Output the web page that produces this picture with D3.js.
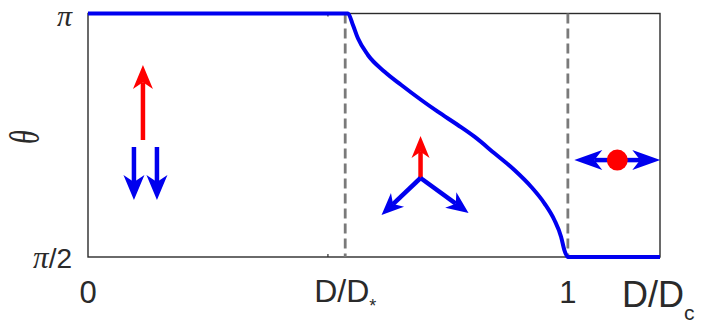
<!DOCTYPE html>
<html>
<head>
<meta charset="utf-8">
<script src="https://cdn.jsdelivr.net/npm/d3@7/dist/d3.min.js"></script>
<style>
  html, body { margin: 0; padding: 0; background: #fff; }
  svg { display: block; }
  text { font-family: "Liberation Sans", Arial, sans-serif; fill: #2a2a2a; }
</style>
</head>
<body>
<svg id="chart" width="707" height="327"></svg>
<script>
// Canting angle theta versus reduced interaction D/Dc
const dRatio = [0, 0.5417, 0.5521, 0.5625, 0.5833, 0.6181, 0.6529, 0.6945, 0.7290,
                0.7707, 0.8054, 0.8470, 0.8886, 0.9234, 0.9511, 0.9719, 0.9858,
                0.9927, 1.0, 1.192];
const theta  = [Math.PI, Math.PI, 3.0675, 2.9817, 2.8739, 2.7662, 2.6804, 2.5836, 2.5081,
                2.4223, 2.3468, 2.2398, 2.1320, 2.0243, 1.9172, 1.8095, 1.7018,
                1.6159, Math.PI / 2, Math.PI / 2];

// phase boundaries (dashed) and axis ticks
const boundaries = [0.536, 1.0];
const xTickMarks = [0.5, 1.0];
const yTickValues = [Math.PI / 2, Math.PI];

// spin sketches placed in each phase: anchor (D/Dc, theta)
const glyphD     = [0.1145, 0.693, 1.103];
const glyphTheta = [2.3256, 2.0804, 2.196];

const margin = { top: 13.5, right: 47, bottom: 70, left: 88 };
const W = 707, H = 327;
const innerW = W - margin.left - margin.right;
const innerH = H - margin.top - margin.bottom;

const svg = d3.select("#chart");
const g = svg.append("g").attr("transform", `translate(${margin.left},${margin.top})`);

const x = d3.scaleLinear().domain([0, 1.192]).range([0, innerW]);
const y = d3.scaleLinear().domain([Math.PI / 2, Math.PI]).range([innerH, 0]);

// frame
g.append("rect")
  .attr("x", 0).attr("y", 0).attr("width", innerW).attr("height", innerH)
  .attr("fill", "none").attr("stroke", "#2b2b2b").attr("stroke-width", 1.4);

// small inward ticks on bottom and top
const tickLen = 3;
g.selectAll(".tb").data(xTickMarks).join("line")
  .attr("x1", d => x(d)).attr("x2", d => x(d))
  .attr("y1", innerH).attr("y2", innerH - tickLen)
  .attr("stroke", "#2b2b2b").attr("stroke-width", 1.2);
g.selectAll(".tt").data(xTickMarks).join("line")
  .attr("x1", d => x(d)).attr("x2", d => x(d))
  .attr("y1", 0).attr("y2", tickLen)
  .attr("stroke", "#2b2b2b").attr("stroke-width", 1.2);

// dashed phase boundaries
g.selectAll(".bnd").data(boundaries).join("line")
  .attr("x1", d => x(d)).attr("x2", d => x(d))
  .attr("y1", 0).attr("y2", innerH)
  .attr("stroke", "#7a7a7a").attr("stroke-width", 2.8)
  .attr("stroke-dasharray", "10,5");

// theta curve
const line = d3.line()
  .x((d, i) => x(dRatio[i]))
  .y((d, i) => y(theta[i]))
  .curve(d3.curveMonotoneX);
g.append("path")
  .datum(dRatio)
  .attr("d", line)
  .attr("fill", "none")
  .attr("stroke", "#0000f0")
  .attr("stroke-width", 4)
  .attr("stroke-linejoin", "round");

// arrow helper (notched head)
function arrow(sel, x1, y1, x2, y2, color, headLen, headWid, shaftW) {
  const dx = x2 - x1, dy = y2 - y1, L = Math.hypot(dx, dy);
  const ux = dx / L, uy = dy / L, px = -uy, py = ux;
  const bx = x2 - ux * headLen, by = y2 - uy * headLen;
  const nx = x2 - ux * headLen * 0.72, ny = y2 - uy * headLen * 0.72;
  sel.append("line")
    .attr("x1", x1).attr("y1", y1).attr("x2", nx).attr("y2", ny)
    .attr("stroke", color).attr("stroke-width", shaftW);
  sel.append("path")
    .attr("d", `M${x2},${y2}L${bx + px * headWid / 2},${by + py * headWid / 2}` +
               `L${nx},${ny}L${bx - px * headWid / 2},${by - py * headWid / 2}Z`)
    .attr("fill", color);
}

const red = "#ff0000", blue = "#0000ee";

// phase I: collinear, one up and two down
{
  const cx = x(glyphD[0]), cy = y(glyphTheta[0]);
  arrow(g, cx, cy, cx, cy - 75, red, 24, 20, 4.5);
  arrow(g, cx - 9, cy + 7, cx - 9, cy + 60, blue, 25, 21, 4.5);
  arrow(g, cx + 14, cy + 7, cx + 14, cy + 60, blue, 25, 21, 4.5);
}
// phase II: canted triad
{
  const cx = x(glyphD[1]), cy = y(glyphTheta[1]);
  arrow(g, cx, cy, cx, cy - 42, red, 22, 18, 4.5);
  arrow(g, cx, cy, cx - 39, cy + 37, blue, 22, 19, 4.5);
  arrow(g, cx, cy, cx + 48, cy + 35, blue, 22, 19, 4.5);
}
// phase III: in-plane, with red dot
{
  const cx = x(glyphD[2]), cy = y(glyphTheta[2]);
  arrow(g, cx, cy, cx - 43, cy, blue, 28, 20, 4.5);
  arrow(g, cx, cy, cx + 43, cy, blue, 28, 20, 4.5);
  g.append("circle").attr("cx", cx).attr("cy", cy).attr("r", 10.5).attr("fill", red);
}

// y tick labels
const yLab = svg.append("g");
yLab.append("text")
  .attr("x", 72).attr("y", margin.top + y(yTickValues[1]) + 12)
  .attr("text-anchor", "end")
  .style("font-family", "'Liberation Serif', serif").style("font-style", "italic")
  .style("font-size", "30px").text("π");
const half = yLab.append("text")
  .attr("x", 72).attr("y", margin.top + y(yTickValues[0]) + 11)
  .attr("text-anchor", "end").style("font-size", "28px");
half.append("tspan")
  .style("font-family", "'Liberation Serif', serif").style("font-style", "italic")
  .style("font-size", "31px").text("π");
half.append("tspan").text("/2");

// y axis title
svg.append("text")
  .attr("transform", "translate(39,137) rotate(-90) scale(1,1.5)")
  .attr("text-anchor", "middle")
  .style("font-family", "'Liberation Serif', serif").style("font-style", "italic")
  .style("font-size", "28px").text("θ");

// x tick labels
const xl = svg.append("g");
xl.append("text").attr("x", margin.left + x(0)).attr("y", 303)
  .attr("text-anchor", "middle").style("font-size", "31px").text("0");
xl.append("text").attr("x", margin.left + x(1)).attr("y", 303)
  .attr("text-anchor", "middle").style("font-size", "31px").text("1");
const ds = xl.append("text").attr("x", margin.left + x(boundaries[0])).attr("y", 302)
  .attr("text-anchor", "middle").style("font-size", "32px");
ds.append("tspan").text("D/D");
ds.append("tspan").attr("dy", 10).style("font-size", "18px").text("*");

// x axis title
const dc = svg.append("text").attr("x", 622).attr("y", 307).style("font-size", "36px");
dc.append("tspan").text("D/D");
dc.append("tspan").attr("dy", 13).style("font-size", "21px").text("c");
</script>
</body>
</html>
